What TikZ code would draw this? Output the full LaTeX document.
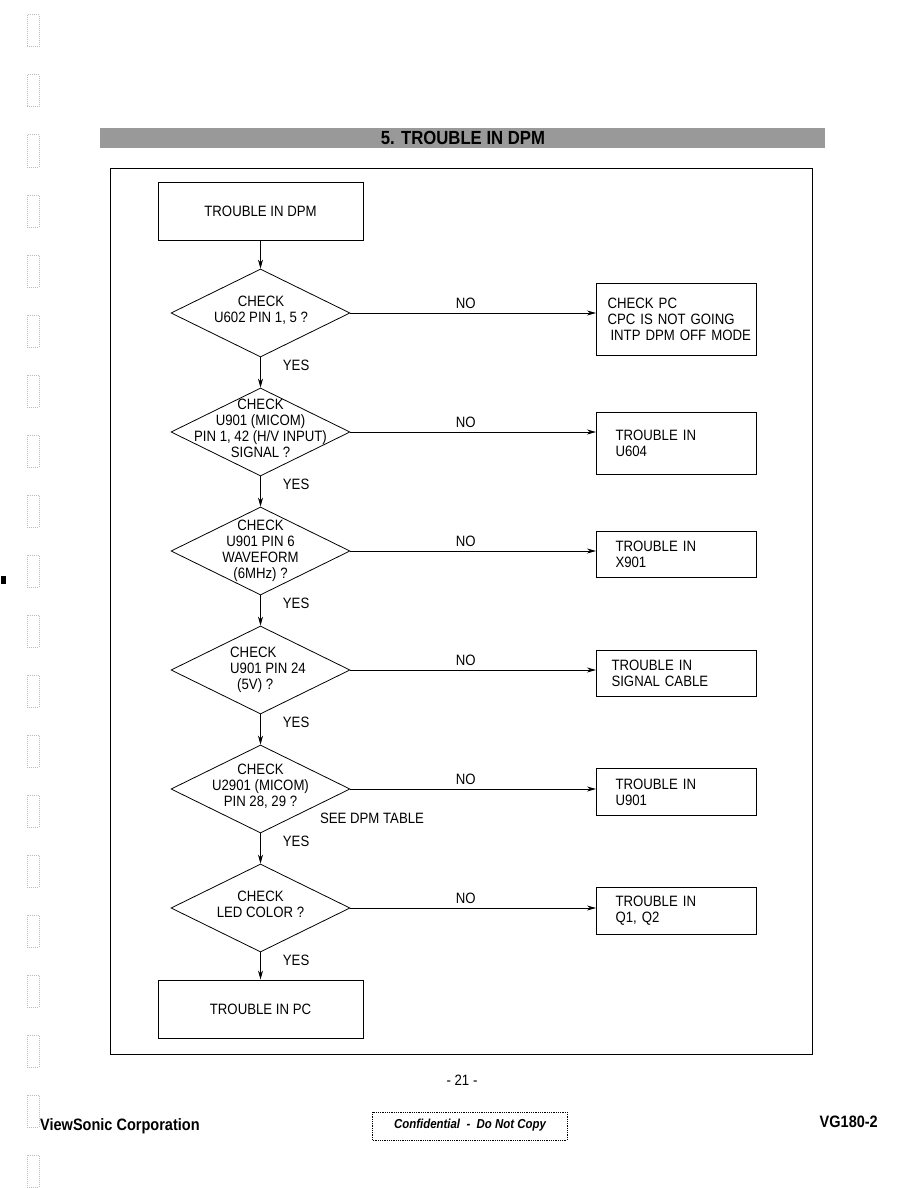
\documentclass[tikz,border=0pt]{standalone}
\usepackage{fontspec}
\setmainfont[FakeStretch=0.88]{Liberation Sans}
\usepackage{tikz}
\usetikzlibrary{arrows.meta,positioning,shapes.geometric}
\definecolor{gris}{HTML}{999999}
\definecolor{grisclair}{HTML}{BBBBBB}
\tikzset{
  boite/.style={draw,line width=1pt,minimum width=205pt,minimum height=58pt,
                font=\fontsize{15}{16}\selectfont},
  boitenon/.style={draw,line width=1pt,anchor=north west,align=left,
                   text width=122pt,inner xsep=19pt,font=\fontsize{15}{16}\selectfont},
  losange/.style={diamond,draw,line width=0.8pt,minimum width=179pt,
                  minimum height=88pt,inner sep=0pt},
  texte/.style={align=center,font=\fontsize{15}{16}\selectfont,inner sep=0pt},
  fleche/.style={-{Stealth[length=9pt,width=5pt]},line width=0.8pt},
}

\begin{document}
\begin{tikzpicture}[x=1pt,y=-1pt]
  \useasboundingbox (0,0) rectangle (918,1188);
  % binder holes of the scan
  \foreach \y in {15,75,...,1155}
    \draw[grisclair,densely dotted,line width=1pt] (27,\y) rectangle (39,\y+32);
  \fill (1,576) rectangle (6,584);
  % title bar
  \fill[gris] (100,128) rectangle (825,148);
  \node[font=\fontsize{19}{20}\selectfont\bfseries] (titre) at (463,138) {5. TROUBLE IN DPM};
  \draw[line width=0.8pt] (110,168) rectangle (812,1054);

  \node[boite] (debut) at (260.5,211) {TROUBLE IN DPM};
  \node[losange] (d1) at (260.5,313) {};
  \node[texte] (t1) at (261,310) {CHECK\\U602 PIN 1, 5 ?};
  \node[losange] (d2) at (260.5,432) {};
  \node[texte] (t2) at (260.5,428) {CHECK\\U901 (MICOM)\\PIN 1, 42 (H/V INPUT)\\SIGNAL ?};
  \node[losange] (d3) at (260.5,551) {};
  \node[texte] (t3) at (d3) {CHECK\\U901 PIN 6\\WAVEFORM\\(6MHz) ?};
  \node[losange] (d4) at (260.5,670) {};
  \node[texte,align=left] (t4) at (268,670) {CHECK\\U901 PIN 24\\\hspace*{7pt}(5V) ?};
  \node[losange] (d5) at (260.5,789) {};
  \node[texte] (t5) at (260.5,786) {CHECK\\U2901 (MICOM)\\PIN 28, 29 ?};
  \node[losange] (d6) at (260.5,908) {};
  \node[texte] (t6) at (260.5,904) {CHECK\\LED COLOR ?};
  \node[boite] (fin) at (260.5,1009) {TROUBLE IN PC};

  \node[boitenon,minimum height=72pt,text width=138pt,inner xsep=11pt] (r1) at (596,283)
    {\mbox{CHECK PC}\\\mbox{CPC IS NOT GOING}\\\mbox{\hspace*{3pt}INTP DPM OFF MODE}};
  \node[boitenon,minimum height=62pt] (r2) at (596,412) {TROUBLE IN\\U604};
  \node[boitenon,minimum height=46pt] (r3) at (596,531) {TROUBLE IN\\X901};
  \node[boitenon,minimum height=46pt,text width=130pt,inner xsep=15pt] (r4) at (596,650) {TROUBLE IN\\SIGNAL CABLE};
  \node[boitenon,minimum height=47pt] (r5) at (596,768) {TROUBLE IN\\U901};
  \node[boitenon,minimum height=47pt] (r6) at (596,887) {TROUBLE IN\\Q1, Q2};

  \draw[fleche] (debut) -- (d1);
  \draw[fleche] (d1) -- node[texte,pos=0.25,right=22pt]{YES} (d2);
  \draw[fleche] (d2) -- node[texte,pos=0.25,right=22pt]{YES} (d3);
  \draw[fleche] (d3) -- node[texte,pos=0.25,right=22pt]{YES} (d4);
  \draw[fleche] (d4) -- node[texte,pos=0.25,right=22pt]{YES} (d5);
  \draw[fleche] (d5) -- node[texte,pos=0.25,right=22pt]{YES} (d6);
  \draw[fleche] (d6) -- node[texte,pos=0.3,right=22pt]{YES} (fin);

  \draw[fleche] (d1.east) -- node[texte,pos=0.47,above=4pt]{NO} (d1.east -| r1.west);
  \draw[fleche] (d2.east) -- node[texte,pos=0.47,above=4pt]{NO} (d2.east -| r2.west);
  \draw[fleche] (d3.east) -- node[texte,pos=0.47,above=4pt]{NO} (d3.east -| r3.west);
  \draw[fleche] (d4.east) -- node[texte,pos=0.47,above=4pt]{NO} (d4.east -| r4.west);
  \draw[fleche] (d5.east) -- node[texte,pos=0.47,above=4pt]{NO} (d5.east -| r5.west);
  \draw[fleche] (d6.east) -- node[texte,pos=0.47,above=4pt]{NO} (d6.east -| r6.west);
  \node[texte] (table) at (372,818) {SEE DPM TABLE};

  % page footer
  \node[texte] (page) at (462,1080) {- 21 -};
  \node[font=\fontsize{16.5}{18}\selectfont\bfseries,anchor=west,inner sep=0pt] (societe) at (40,1126) {ViewSonic Corporation};
  \draw[densely dotted,line width=0.8pt] (372,1112) rectangle (567,1140);
  \node[font=\fontsize{13}{15}\selectfont\bfseries\itshape] (confid) at (470,1125) {Confidential\ \ -\ \ Do Not Copy};
  \node[font=\fontsize{16.5}{18}\selectfont\bfseries,anchor=east,inner sep=0pt] (modele) at (878,1122) {VG180-2};
\end{tikzpicture}
\end{document}
